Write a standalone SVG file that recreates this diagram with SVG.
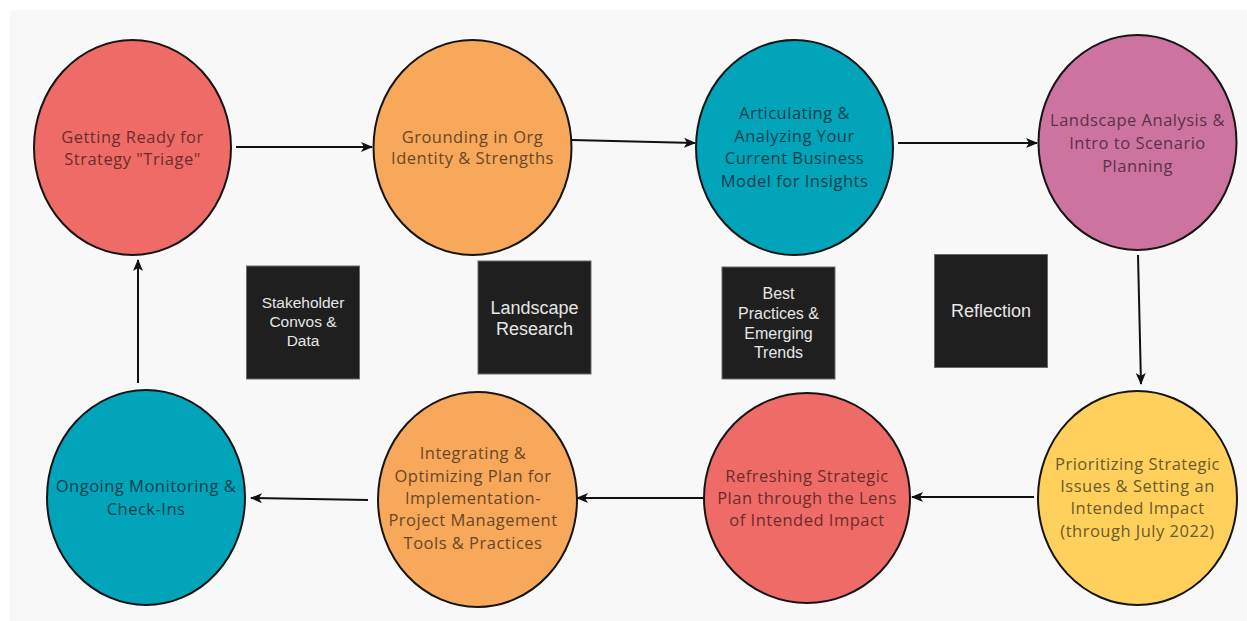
<svg xmlns="http://www.w3.org/2000/svg" width="1247" height="621" viewBox="0 0 1247 621">
<defs>
<marker id="ah" viewBox="0 0 12 10" refX="11" refY="5" markerWidth="12" markerHeight="10" markerUnits="userSpaceOnUse" orient="auto">
<path d="M0,0 L12,5 L0,10 L3,5 Z" fill="#111"/>
</marker>
</defs>
<style>
.n{stroke:#151515;stroke-width:2}
.t{font-family:"Open Sans",Lato,sans-serif;font-size:16.5px;letter-spacing:0.5px;text-anchor:middle}
.b{fill:#1f1f1f;stroke:#6a6a6a;stroke-width:1}
.bt{font-family:"Liberation Sans",Arial,sans-serif;fill:#e6e6e6;text-anchor:middle}
.c{stroke:#111;stroke-width:2;fill:none;marker-end:url(#ah)}
</style>
<rect x="0" y="0" width="1247" height="621" fill="#ffffff"/>
<rect x="10" y="10" width="1237" height="611" fill="#f8f8f8"/>

<g id="connectors">
<line class="c" x1="236" y1="147" x2="372" y2="147"/>
<line class="c" x1="572" y1="140" x2="695" y2="143"/>
<line class="c" x1="898" y1="143" x2="1037" y2="143"/>
<line class="c" x1="1138" y1="255" x2="1141" y2="384"/>
<line class="c" x1="1034" y1="497" x2="912" y2="497"/>
<line class="c" x1="703" y1="498" x2="577" y2="498"/>
<line class="c" x1="368" y1="500" x2="251" y2="498"/>
<line class="c" x1="138" y1="383" x2="138" y2="260"/>
</g>

<g id="n1">
<ellipse class="n" cx="132.5" cy="147.5" rx="98.5" ry="107.5" fill="#ef6b67"/>
<text class="t" fill="#6e2b2b"><tspan x="132.5" y="142.5">Getting Ready for</tspan><tspan x="132.5" y="165">Strategy "Triage"</tspan></text>
</g>
<g id="n2">
<ellipse class="n" cx="472.5" cy="147.5" rx="99" ry="107.5" fill="#f8a85b"/>
<text class="t" fill="#6a4626"><tspan x="472.5" y="142.5">Grounding in Org</tspan><tspan x="472.5" y="164">Identity &amp; Strengths</tspan></text>
</g>
<g id="n3">
<ellipse class="n" cx="794.5" cy="147.5" rx="98.5" ry="107.5" fill="#02a4b9"/>
<text class="t" fill="#0a3f4b"><tspan x="794.5" y="119">Articulating &amp;</tspan><tspan x="794.5" y="142">Analyzing Your</tspan><tspan x="794.5" y="164">Current Business</tspan><tspan x="794.5" y="187">Model for Insights</tspan></text>
</g>
<g id="n4">
<ellipse class="n" cx="1137.5" cy="142.5" rx="99" ry="107.5" fill="#cd73a0"/>
<text class="t" fill="#5c3147"><tspan x="1137.5" y="125.5">Landscape Analysis &amp;</tspan><tspan x="1137.5" y="149">Intro to Scenario</tspan><tspan x="1137.5" y="171.5">Planning</tspan></text>
</g>
<g id="n5">
<ellipse class="n" cx="1137.5" cy="498" rx="99.5" ry="107" fill="#ffd15c"/>
<text class="t" fill="#6a5a2a"><tspan x="1137.5" y="470">Prioritizing Strategic</tspan><tspan x="1137.5" y="492">Issues &amp; Setting an</tspan><tspan x="1137.5" y="514">Intended Impact</tspan><tspan x="1137.5" y="536.5">(through July 2022)</tspan></text>
</g>
<g id="n6">
<ellipse class="n" cx="807" cy="498" rx="103" ry="105" fill="#ef6b67"/>
<text class="t" fill="#6e2b2b"><tspan x="807" y="481.5">Refreshing Strategic</tspan><tspan x="807" y="504">Plan through the Lens</tspan><tspan x="807" y="526">of Intended Impact</tspan></text>
</g>
<g id="n7">
<ellipse class="n" cx="477.5" cy="499.5" rx="99.5" ry="107.5" fill="#f8a85b"/>
<text class="t" fill="#6a4626"><tspan x="473" y="459">Integrating &amp;</tspan><tspan x="473" y="481.5">Optimizing Plan for</tspan><tspan x="473" y="503.5">Implementation-</tspan><tspan x="473" y="526">Project Management</tspan><tspan x="473" y="548.5">Tools &amp; Practices</tspan></text>
</g>
<g id="n8">
<ellipse class="n" cx="146" cy="497.5" rx="99" ry="107.5" fill="#02a4b9"/>
<text class="t" fill="#0a3f4b"><tspan x="146" y="492">Ongoing Monitoring &amp;</tspan><tspan x="146" y="515">Check-Ins</tspan></text>
</g>

<g id="b1">
<rect class="b" x="246.5" y="266" width="113" height="113"/>
<text class="bt" font-size="15.5"><tspan x="303" y="307.5">Stakeholder</tspan><tspan x="303" y="327">Convos &amp;</tspan><tspan x="303" y="346">Data</tspan></text>
</g>
<g id="b2">
<rect class="b" x="478" y="261" width="113" height="113"/>
<text class="bt" font-size="18"><tspan x="534.5" y="313.5">Landscape</tspan><tspan x="534.5" y="334.5">Research</tspan></text>
</g>
<g id="b3">
<rect class="b" x="722" y="267" width="113" height="112"/>
<text class="bt" font-size="16"><tspan x="778.5" y="299">Best</tspan><tspan x="778.5" y="318.5">Practices &amp;</tspan><tspan x="778.5" y="338.5">Emerging</tspan><tspan x="778.5" y="358">Trends</tspan></text>
</g>
<g id="b4">
<rect class="b" x="934.5" y="254.5" width="113" height="113"/>
<text class="bt" font-size="18"><tspan x="991" y="317">Reflection</tspan></text>
</g>
</svg>
